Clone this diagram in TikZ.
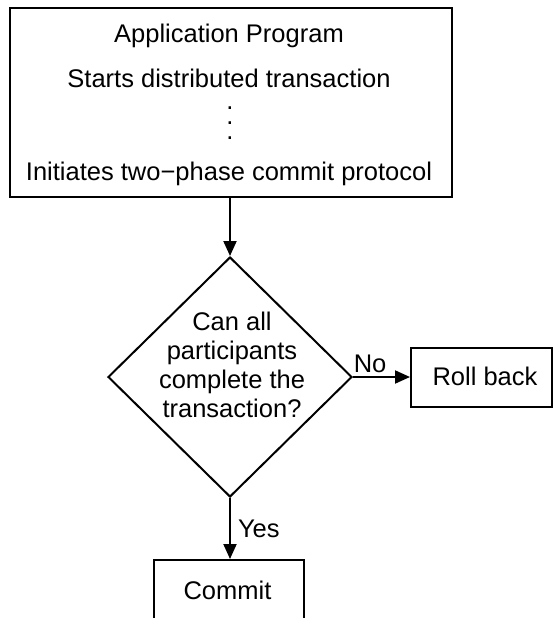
\documentclass[tikz,border=0pt]{standalone}
\usepackage{fontspec}
\setmainfont{Liberation Sans}
\usetikzlibrary{shapes.geometric,arrows.meta}
\begin{document}
\begin{tikzpicture}[x=1pt,y=-1pt,
  font=\fontsize{25.5}{29}\selectfont,
  boxnode/.style={draw,line width=2pt,rectangle,inner sep=0pt},
  txt/.style={anchor=base,inner sep=0pt},
  flow/.style={line width=2pt,-{Triangle[length=15pt,width=13pt]}}]
\useasboundingbox (0,0) rectangle (553,618);
\clip (0,0) rectangle (553,618);
% top box
\node[boxnode,minimum width=442pt,minimum height=189pt] (app) at (230.5,102.5) {};
\node[txt] (t1) at (229,43) {Application Program};
\node[txt] (t2) at (229,87) {Starts distributed transaction};
\node[anchor=north,inner sep=0pt,align=center,font=\fontsize{25.5}{15}\selectfont] (dots) at (230,106.5) {.\\.\\.};
\node[txt] (t3) at (229,180) {Initiates two\textminus phase commit protocol};
% diamond
\node[draw,line width=2pt,diamond,inner sep=0pt,minimum width=244pt,minimum height=240pt] (dia) at (230,377) {};
\node[txt] (q1) at (232,330) {Can all};
\node[txt] (q2) at (232,359) {participants};
\node[txt] (q3) at (232,388) {complete the};
\node[txt] (q4) at (232,417) {transaction?};
% roll back
\node[boxnode,minimum width=141pt,minimum height=59pt] (rb) at (481.5,377.5) {};
\node[txt] (rbt) at (485,385) {Roll back};
% commit
\node[boxnode,minimum width=150pt,minimum height=90pt] (cm) at (229,605) {};
\node[txt] (cmt) at (227.5,599) {Commit};
% connectors
\draw[flow] (dia.north |- app.south) -- (dia.north);
\draw[flow] (dia.east) -- (rb.west |- dia.east) node[pos=0.3,above,inner sep=3pt] {No};
\draw[flow] (dia.south) -- (dia.south |- cm.north) node[pos=0.5,right,inner sep=7pt] {Yes};
\end{tikzpicture}
\end{document}
